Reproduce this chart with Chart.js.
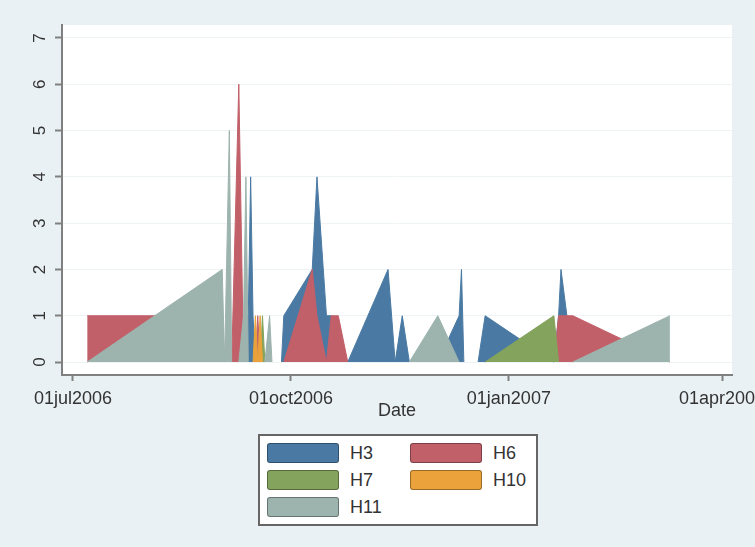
<!DOCTYPE html>
<html>
<head>
<meta charset="utf-8">
<script src="https://cdn.jsdelivr.net/npm/chart.js@4.4.1/dist/chart.umd.min.js"></script>
<style>
body { margin: 0; background: #eaf1f4; font-family: "Liberation Sans", Arial, sans-serif; }
#wrap { position: relative; width: 755px; height: 547px; }
#legenda { position: absolute; left: 258px; top: 434px; width: 276px; height: 88px; background: #fff; border: 2px solid #666; }
.sw { position: absolute; width: 72px; height: 20px; border-radius: 3px; box-sizing: border-box; border: 1px solid rgba(0,0,0,.35); }
.lb { position: absolute; font-size: 18px; color: #333; line-height: 20px; }
</style>
</head>
<body>
<div id="wrap">
  <canvas id="grafico" width="755" height="547"></canvas>
  <div id="legenda"></div>
</div>
<script>
// dates of the observations (shared by all series)
const dates = [
    "2006-07-07", "2006-09-02", "2006-09-03", "2006-09-05", "2006-09-06",
    "2006-09-09", "2006-09-11", "2006-09-12", "2006-09-13", "2006-09-14",
    "2006-09-15", "2006-09-16", "2006-09-17", "2006-09-18", "2006-09-19",
    "2006-09-20", "2006-09-22", "2006-09-23", "2006-09-27", "2006-09-28",
    "2006-10-10", "2006-10-12", "2006-10-16", "2006-10-18", "2006-10-21",
    "2006-10-25", "2006-11-11", "2006-11-14", "2006-11-17", "2006-11-20",
    "2006-12-02", "2006-12-11", "2006-12-12", "2006-12-13", "2006-12-19",
    "2006-12-22", "2007-01-20", "2007-01-22", "2007-01-23", "2007-01-28",
    "2007-03-10"
]

const h3 = [0,0,0,0,0, 0,0,1,1,4, 1,0,0,0,0, 0,0,0,0,1, 2,4,1,1,0, 0,2,0,1,0, 0,1,2,0,0, 1,0,1,2,0, 0]
const h6 = [1,1,0,0,0, 6,0,0,0,0, 0,0,1,0,0, 0,0,0,0,0, 2,1,0,1,1, 0,0,0,0,0, 0,0,0,0,0, 0,0,1,1,1, 0]
const h7 = [0,0,0,0,0, 0,0,0,0,0, 0,0,0,0,1, 0,0,0,0,0, 0,0,0,0,0, 0,0,0,0,0, 0,0,0,0,0, 0,1,0,0,0, 0]
const h10 = [0,0,0,0,0, 0,0,0,0,0, 0,1,0,1,0, 0,0,0,0,0, 0,0,0,0,0, 0,0,0,0,0, 0,0,0,0,0, 0,0,0,0,0, 0]
const h11 = [0,2,0,5,0, 0,1,4,0,0, 0,0,0,0,0, 0,1,0,0,0, 0,0,0,0,0, 0,0,0,0,0, 1,0,0,0,0, 0,0,0,0,0, 1]

const names = ["H3", "H6", "H7", "H10", "H11"]
const colors = ["#4a7aa3", "#c2606a", "#84a35c", "#eba23a", "#9db4ae"]
const series = [h3, h6, h7, h10, h11]

const xTickDates = ["2006-07-01", "2006-10-01", "2007-01-01", "2007-04-01"]
const xTickLabels = ["01jul2006", "01oct2006", "01jan2007", "01apr2007"]
const yTicks = [0, 1, 2, 3, 4, 5, 6, 7]

// days since 01jul2006
function day(s) {
    return (Date.parse(s) - Date.parse("2006-07-01")) / 86400000
}
const xTickDays = xTickDates.map(day)

// white plot region
const fundo = {
    id: "fundo",
    beforeDraw(c) {
        const a = c.chartArea
        const ctx = c.ctx
        ctx.save()
        ctx.fillStyle = "#ffffff"
        ctx.fillRect(a.left, a.top, a.right - a.left, a.bottom - a.top)
        ctx.restore()
    }
}

const datasets = series.map((vals, k) => ({
    label: names[k],
    data: dates.map((d, i) => ({ x: day(d), y: vals[i] })),
    backgroundColor: colors[k],
    borderColor: colors[k],
    borderWidth: 1,
    // no outline along the zero baseline
    segment: {
        borderColor: c => (c.p0.parsed.y === 0 && c.p1.parsed.y === 0) ? "rgba(0,0,0,0)" : undefined
    },
    fill: "origin",
    pointRadius: 0,
    tension: 0,
    order: series.length - k   // later series drawn on top
}))

const axisColor = "#808080"

new Chart(document.getElementById("grafico"), {
    type: "line",
    data: { datasets },
    plugins: [fundo],
    options: {
        responsive: false,
        animation: false,
        layout: { padding: { left: 0, right: 23, top: 25, bottom: 125 } },
        plugins: { legend: { display: false }, tooltip: { enabled: false } },
        scales: {
            x: {
                type: "linear",
                min: -4.64,
                max: 278.2,
                afterBuildTicks: s => { s.ticks = xTickDays.map(v => ({ value: v })) },
                afterFit: s => { s.height = 47; s.paddingLeft = 0; s.paddingRight = 0 },
                ticks: {
                    autoSkip: false, maxRotation: 0, padding: 7, color: "#333",
                    font: { family: "Liberation Sans", size: 18 },
                    callback: v => xTickLabels[xTickDays.indexOf(v)]
                },
                grid: { drawOnChartArea: false, tickLength: 6, tickColor: axisColor, tickWidth: 2 },
                border: { color: axisColor, width: 2 },
                title: { display: true, text: "Date", color: "#333", padding: 0,
                         font: { family: "Liberation Sans", size: 18 } }
            },
            y: {
                min: -0.28,
                max: 7.28,
                afterBuildTicks: s => { s.ticks = yTicks.map(v => ({ value: v })) },
                afterFit: s => { s.width = 62; s.paddingTop = 0; s.paddingBottom = 0 },
                ticks: {
                    minRotation: 90, maxRotation: 90, crossAlign: "center", padding: 10,
                    color: "#333", font: { family: "Liberation Sans", size: 17 }
                },
                grid: { color: "#eef3f5", tickLength: 7, tickColor: axisColor, tickWidth: 2 },
                border: { color: axisColor, width: 2 }
            }
        }
    }
})

// legend, two columns
const legenda = document.getElementById("legenda")
names.forEach((n, i) => {
    const col = i % 2
    const row = Math.floor(i / 2)
    const sw = document.createElement("div")
    sw.className = "sw"
    sw.style.left = (7 + col * 143) + "px"
    sw.style.top = (7 + row * 27) + "px"
    sw.style.background = colors[i]
    legenda.appendChild(sw)

    const lb = document.createElement("div")
    lb.className = "lb"
    lb.style.left = (90 + col * 143) + "px"
    lb.style.top = (7 + row * 27) + "px"
    lb.innerText = n
    legenda.appendChild(lb)
})
</script>
</body>
</html>
